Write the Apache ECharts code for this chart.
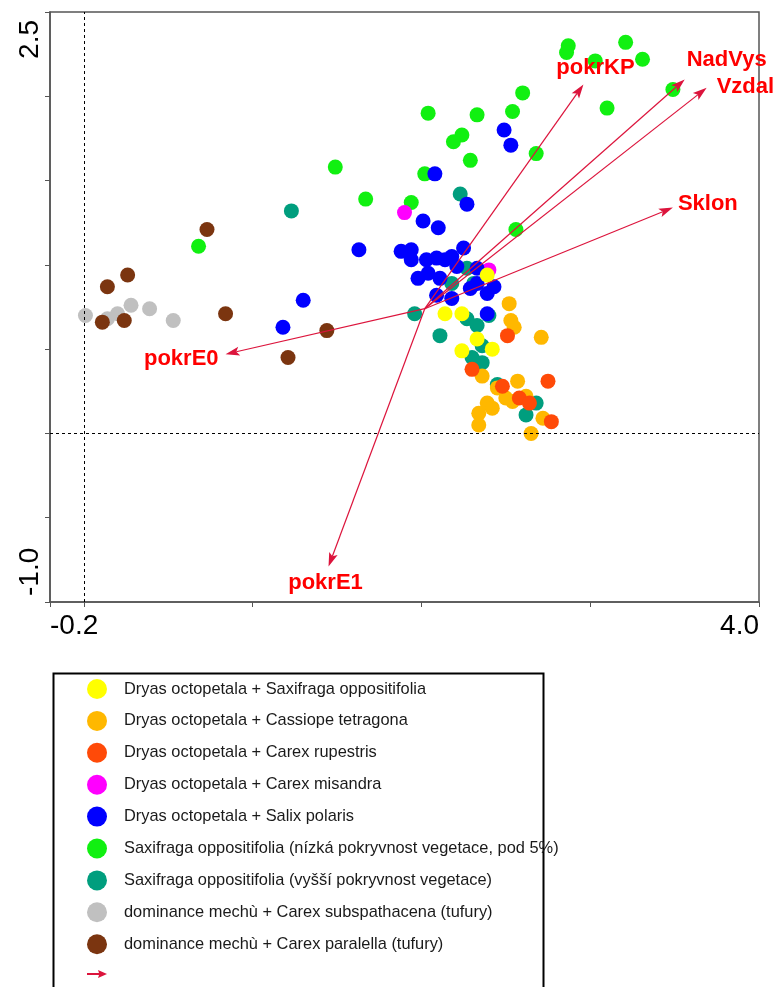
<!DOCTYPE html>
<html>
<head>
<meta charset="utf-8">
<script src="https://cdn.jsdelivr.net/npm/echarts@6/dist/echarts.min.js"></script>
<style>
html,body{margin:0;padding:0;background:#fff;}
#chart{width:779px;height:987px;}
</style>
</head>
<body>
<div id="chart"></div>
<script>
// ---- categories (legend order) ----
const categories = [
  'Dryas octopetala + Saxifraga oppositifolia',
  'Dryas octopetala + Cassiope tetragona',
  'Dryas octopetala + Carex rupestris',
  'Dryas octopetala + Carex misandra',
  'Dryas octopetala + Salix polaris',
  'Saxifraga oppositifolia (nízká pokryvnost vegetace, pod 5%)',
  'Saxifraga oppositifolia (vyšší pokryvnost vegetace)',
  'dominance mechù + Carex subspathacena (tufury)',
  'dominance mechù + Carex paralella (tufury)'
];

// ---- sample scores [axis1, axis2] ----
const dryasSaxifraga = [[2.39,0.94],[2.14,0.71],[2.24,0.71],[2.33,0.56],[2.42,0.50],[2.24,0.49]];
const dryasCassiope = [[2.52,0.77],[2.53,0.67],[2.55,0.63],[2.71,0.57],[2.36,0.34],[2.57,0.31],[2.45,0.27],[2.50,0.21],[2.54,0.19],[2.62,0.22],[2.39,0.18],[2.42,0.15],[2.34,0.12],[2.72,0.09],[2.34,0.05],[2.65,0.00]];
const dryasRupestris = [[2.51,0.58],[2.30,0.38],[2.48,0.28],[2.75,0.31],[2.58,0.21],[2.64,0.18],[2.77,0.07]];
const dryasMisandra = [[1.90,1.31],[2.40,0.97]];
const dryasSalix = [[2.08,1.54],[2.49,1.80],[2.53,1.71],[2.27,1.36],[2.01,1.26],[2.10,1.22],[1.63,1.09],[1.30,0.79],[1.18,0.63],[1.88,1.08],[1.94,1.09],[1.94,1.03],[2.03,1.03],[2.09,1.04],[2.14,1.03],[2.18,1.05],[2.25,1.10],[2.21,0.99],[1.98,0.92],[2.04,0.95],[2.11,0.92],[2.09,0.82],[2.18,0.80],[2.29,0.86],[2.33,0.98],[2.33,0.89],[2.39,0.83],[2.43,0.87],[2.39,0.71]];
const saxLow = [[2.87,2.30],[2.86,2.26],[3.21,2.32],[3.31,2.22],[3.03,2.21],[3.10,1.93],[3.49,2.04],[2.60,2.02],[2.54,1.91],[2.33,1.89],[2.04,1.90],[2.24,1.77],[2.19,1.73],[2.29,1.62],[2.68,1.66],[2.02,1.54],[1.94,1.37],[2.56,1.21],[1.49,1.58],[1.67,1.39],[0.68,1.11]];
const saxHigh = [[1.23,1.32],[2.23,1.42],[2.18,0.89],[2.27,0.98],[2.31,0.89],[1.96,0.71],[2.40,0.70],[2.27,0.68],[2.33,0.64],[2.11,0.58],[2.36,0.52],[2.30,0.45],[2.36,0.42],[2.45,0.29],[2.68,0.18],[2.62,0.11]];
const mossSubspathacea = [[0.01,0.70],[0.14,0.68],[0.20,0.71],[0.28,0.76],[0.39,0.74],[0.53,0.67]];
const mossParalella = [[0.73,1.21],[0.14,0.87],[0.26,0.94],[0.11,0.66],[0.24,0.67],[0.84,0.71],[1.44,0.61],[1.21,0.45]];

// ---- environmental variable arrows ----
const arrowNames = ['pokrKP','NadVys','Vzdal','Sklon','pokrE0','pokrE1'];
const arrowOrigin = [2.02, 0.74];
const arrowTipX = [2.96, 3.56, 3.69, 3.49, 0.84, 1.45];
const arrowTipY = [2.07, 2.10, 2.05, 1.34, 0.47, -0.79];

// ---- axis tick labels ----
const xTicks = [-0.2, 0, 1, 2, 3, 4];
const xMinLabel = [-0.2];
const xMaxLabel = [4.0];
const yMinLabel = -1.0;
const yMaxLabel = 2.5;

// ---- styling (not data) ----
const groupData = [dryasSaxifraga, dryasCassiope, dryasRupestris, dryasMisandra, dryasSalix, saxLow, saxHigh, mossSubspathacea, mossParalella];
const groupColors = ['#FFFF00','#FFB800','#FF4A08','#FF00FF','#0000FF','#11F011','#009E7E','#C0C0C0','#7B3510'];
const drawOrder = [7, 6, 5, 3, 4, 0, 1, 2, 8];
const labelLayout = [
  {dx: 12, dy: -17, align: 'center'},
  {dx: 2, dy: -19, align: 'left'},
  {dx: 10, dy: -1, align: 'left'},
  {dx: 5, dy: -4, align: 'left'},
  {dx: -7, dy: 5, align: 'right'},
  {dx: -3, dy: 16, align: 'center'}
];
const ARROW_COLOR = '#DC143C';
const AXIS_COLOR = '#555';
const FONT = 'Arial, "Liberation Sans", sans-serif';
const ARROW_SERIES_NAME = '\u00a0';

const chart = echarts.init(document.getElementById('chart'), null, {renderer: 'canvas'});

const series = [];
// reference dashed lines at 0
series.push({
  type: 'scatter', name: 'ref', data: [], z: 1, silent: true,
  markLine: {
    silent: true, symbol: ['none','none'], animation: false,
    label: {show: false},
    lineStyle: {color: '#000', width: 1, type: [3, 3]},
    data: [{xAxis: 0}, {yAxis: 0}]
  }
});
drawOrder.forEach(function (gi) {
  series.push({
    type: 'scatter', name: categories[gi], data: groupData[gi],
    symbol: 'circle', symbolSize: 15, z: 2,
    itemStyle: {color: groupColors[gi], opacity: 1},
    emphasis: {disabled: true}
  });
});
series.push({
  type: 'custom', name: ARROW_SERIES_NAME, z: 5, clip: false,
  itemStyle: {color: ARROW_COLOR},
  encode: {x: [0, 2], y: [1, 3]},
  data: arrowNames.map(function (n, i) { return [arrowOrigin[0], arrowOrigin[1], arrowTipX[i], arrowTipY[i]]; }),
  renderItem: function (params, api) {
    const i = params.dataIndex;
    const p0 = api.coord([api.value(0), api.value(1)]);
    const p1 = api.coord([api.value(2), api.value(3)]);
    const dx = p1[0] - p0[0], dy = p1[1] - p0[1];
    const len = Math.sqrt(dx * dx + dy * dy);
    const ux = dx / len, uy = dy / len;
    const hl = 14, hw = 4.5, notch = 3;
    const base = [p1[0] - ux * hl, p1[1] - uy * hl];
    const inner = [p1[0] - ux * (hl - notch), p1[1] - uy * (hl - notch)];
    const left = [base[0] - uy * hw, base[1] + ux * hw];
    const right = [base[0] + uy * hw, base[1] - ux * hw];
    const lay = labelLayout[i];
    return {
      type: 'group',
      children: [
        {type: 'line', shape: {x1: p0[0], y1: p0[1], x2: inner[0], y2: inner[1]}, style: {stroke: ARROW_COLOR, lineWidth: 1.2}},
        {type: 'polygon', shape: {points: [p1, left, inner, right]}, style: {fill: ARROW_COLOR}},
        {type: 'text', x: p1[0] + lay.dx, y: p1[1] + lay.dy,
          style: {text: arrowNames[i], fill: '#FF0000', font: 'bold 22px ' + FONT, align: lay.align, verticalAlign: 'middle'}}
      ]
    };
  }
});

const legendData = categories.map(function (c, i) {
  return {name: c, icon: 'circle', itemStyle: {color: groupColors[i]}};
});
legendData.push({name: ARROW_SERIES_NAME, icon: 'path://M0,7 L12,7 L11,4 L20,8 L11,12 L12,9 L0,9 Z', itemStyle: {color: ARROW_COLOR}});

const option = {
  animation: false,
  backgroundColor: '#fff',
  grid: {left: 50, right: 20, top: 12, bottom: 385, show: true, borderColor: AXIS_COLOR, borderWidth: 1.5, backgroundColor: 'transparent'},
  xAxis: [
    {
      type: 'value', min: -0.2, max: 4.0, position: 'bottom',
      axisLine: {show: true, onZero: false, lineStyle: {color: AXIS_COLOR, width: 1.5}},
      axisTick: {show: true, length: 5, customValues: xTicks, lineStyle: {color: AXIS_COLOR, width: 1}},
      axisLabel: {customValues: xMinLabel, formatter: function (v) { return v.toFixed(1); }, align: 'left', fontSize: 28, color: '#000', fontFamily: FONT, margin: 10},
      splitLine: {show: false}
    },
    {
      type: 'value', min: -0.2, max: 4.0, position: 'bottom',
      axisLine: {show: false}, axisTick: {show: false},
      axisLabel: {customValues: xMaxLabel, formatter: function (v) { return v.toFixed(1); }, align: 'right', fontSize: 28, color: '#000', fontFamily: FONT, margin: 10},
      splitLine: {show: false}
    }
  ],
  yAxis: [
    {
      type: 'value', min: -1.0, max: 2.5, interval: 0.5, position: 'left',
      axisLine: {show: true, onZero: false, lineStyle: {color: AXIS_COLOR, width: 1.5}},
      axisTick: {show: true, length: 5, lineStyle: {color: AXIS_COLOR, width: 1}},
      axisLabel: {formatter: function (v) { return Math.abs(v - yMinLabel) < 1e-9 ? yMinLabel.toFixed(1) : ''; }, rotate: 90, align: 'left', padding: [0, 0, 0, 6], fontSize: 28, color: '#000', fontFamily: FONT, margin: 6},
      splitLine: {show: false}
    },
    {
      type: 'value', min: -1.0, max: 2.5, interval: 0.5, position: 'left', offset: 0,
      axisLine: {show: false}, axisTick: {show: false},
      axisLabel: {formatter: function (v) { return Math.abs(v - yMaxLabel) < 1e-9 ? yMaxLabel.toFixed(1) : ''; }, rotate: 90, align: 'right', padding: [0, 8, 0, 0], fontSize: 28, color: '#000', fontFamily: FONT, margin: 6},
      splitLine: {show: false}
    }
  ],
  legend: {
    orient: 'vertical', left: 82, top: 674, height: 340,
    itemWidth: 20, itemHeight: 20, itemGap: 11.9,
    selectedMode: false,
    textStyle: {fontSize: 16.4, color: '#1a1a1a', fontFamily: FONT, padding: [0, 0, 0, 12]},
    data: legendData
  },
  graphic: [
    {type: 'rect', left: 51, top: 671, shape: {width: 490, height: 330}, style: {fill: 'none', stroke: '#000', lineWidth: 2}, z: 0}
  ],
  series: series
};
chart.setOption(option);
</script>
</body>
</html>
